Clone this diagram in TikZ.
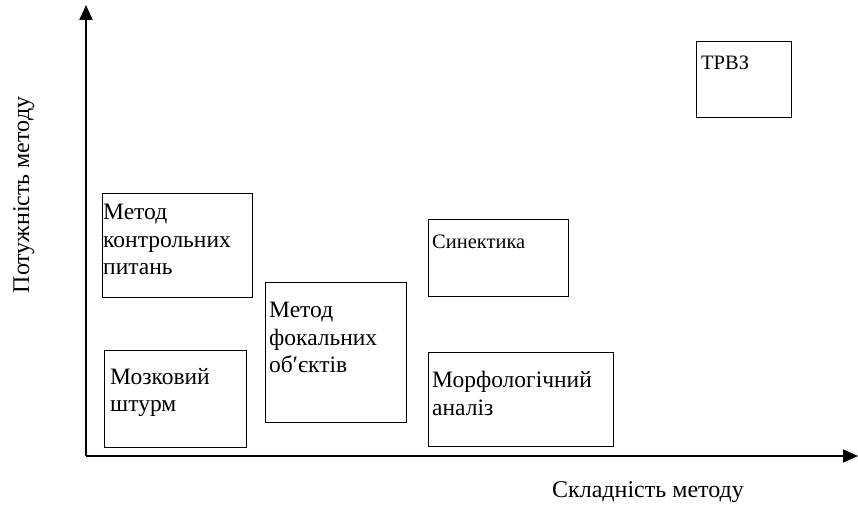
\documentclass[tikz,border=0pt]{standalone}
\usepackage{fontspec}
\setmainfont{Liberation Serif}
\usetikzlibrary{arrows.meta}

\tikzset{
	methodbox/.style={draw, line width=1.2pt, anchor=north west, inner sep=0pt},
	boxtext/.style={anchor=north west, inner sep=0pt, align=left, font=\fontsize{23.5}{27.5}\selectfont},
	smalltext/.style={boxtext, font=\fontsize{20.5}{24}\selectfont},
	axisline/.style={line width=2pt, -{Triangle[length=15pt,width=13pt]}},
	axislabel/.style={anchor=base, font=\fontsize{24}{28}\selectfont}
}

\begin{document}
\begin{tikzpicture}[x=1pt, y=-1pt]
		%%%%% START %%%%%
		\useasboundingbox (0, 0) rectangle (858, 510);
		
		\coordinate (origin) at (86, 456);
		\coordinate (ytop) at (86, 5);
		\coordinate (xend) at (858, 456);
		
		\draw[axisline] (origin) -- (ytop);
		\draw[axisline] (origin) -- (xend);
		
		\node[axislabel, rotate=90] (ylab) at (29, 195) {Потужність методу};
		\node[axislabel] (xlab) at (648, 497) {Складність методу};
		
		\node[methodbox, minimum width=150, minimum height=104,
			label={[boxtext, xshift=1, yshift=-11]north west:{Метод\\контрольних\\питань}}] (mkp) at (102, 193) {};
		\node[methodbox, minimum width=142, minimum height=97,
			label={[boxtext, xshift=6, yshift=-18]north west:{Мозковий\\штурм}}] (ms) at (104, 350) {};
		\node[methodbox, minimum width=141, minimum height=140,
			label={[boxtext, xshift=4, yshift=-20]north west:{Метод\\фокальних\\об′єктів}}] (mfo) at (265, 282) {};
		
		\node[methodbox, minimum width=140, minimum height=77,
			label={[smalltext, xshift=4, yshift=-16]north west:{Синектика}}] (syn) at (428, 219) {};
		\node[methodbox, minimum width=185, minimum height=94,
			label={[boxtext, xshift=4, yshift=-19]north west:{Морфологічний\\аналіз}}] (ma) at (428, 352) {};
		
		\node[methodbox, minimum width=95, minimum height=76,
			label={[smalltext, xshift=5, yshift=-15]north west:{ТРВЗ}}] (trvz) at (696, 41) {};
		
		%%%%% END %%%%%
\end{tikzpicture}
\end{document}
